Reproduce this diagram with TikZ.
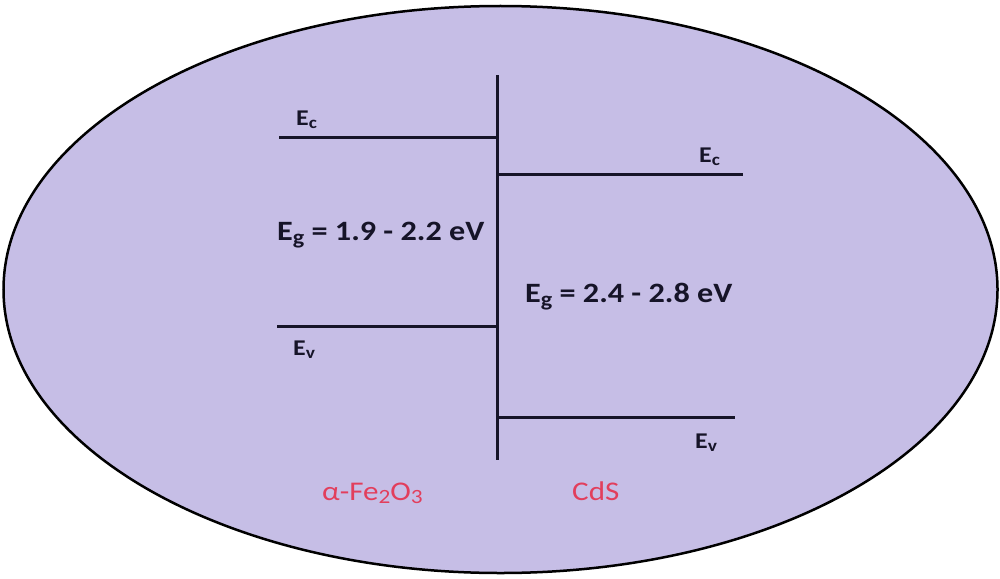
\documentclass[tikz,border=0pt]{standalone}
\usepackage{fontspec}
\setmainfont{Carlito}[FakeStretch=1.15]
\usetikzlibrary{shapes.geometric}
\definecolor{lav}{RGB}{198,190,230}
\definecolor{lbl}{RGB}{226,62,92}
\definecolor{ink}{RGB}{22,20,40}
\newcommand\lowsub[1]{\raisebox{-0.3ex}{\scalebox{0.75}{#1}}}
\begin{document}
\begin{tikzpicture}[x=1pt,y=-1pt,
  band/.style={line width=3pt,ink},
  elabel/.style={anchor=base west,inner sep=0pt,font=\bfseries\fontsize{22.5}{26}\selectfont,text=ink},
  gaplabel/.style={anchor=base west,inner sep=0pt,font=\bfseries\fontsize{28}{32}\selectfont,text=ink},
  matlabel/.style={anchor=base west,inner sep=0pt,font=\fontsize{27}{30}\selectfont,text=lbl}]
\useasboundingbox (0,0) rectangle (1000,578);
\node[draw=black,line width=2.5pt,fill=lav,ellipse,minimum width=994pt,minimum height=567pt,inner sep=0pt] (shell) at (500.5,289.5) {};
% interface
\coordinate (itop) at (497,75);
\coordinate (ibot) at (497,460);
\draw[band] (itop) -- (ibot);
% alpha-Fe2O3 bands
\coordinate (ecL) at (279,137);
\coordinate (ecLi) at (497,137);
\coordinate (evL) at (277,326);
\coordinate (evLi) at (497,326);
\draw[band] (ecL) -- (ecLi);
\draw[band] (evL) -- (evLi);
% CdS bands
\coordinate (ecRi) at (497,174);
\coordinate (ecR) at (743,174);
\coordinate (evRi) at (497,417);
\coordinate (evR) at (735,417);
\draw[band] (ecRi) -- (ecR);
\draw[band] (evRi) -- (evR);
% labels
\node[elabel] (ecLlab) at (296,125) {E\lowsub{c}};
\node[elabel] (evLlab) at (293,355) {E\lowsub{v}};
\node[elabel] (ecRlab) at (699,162) {E\lowsub{c}};
\node[elabel] (evRlab) at (695,448) {E\lowsub{v}};
\node[gaplabel] (egL) at (277,240) {E\lowsub{g} = 1.9 - 2.2 eV};
\node[gaplabel] (egR) at (525,302) {E\lowsub{g} = 2.4 - 2.8 eV};
\node[matlabel] (fe) at (322,500) {α-Fe\lowsub{2}O\lowsub{3}};
\node[matlabel] (cds) at (572,500) {CdS};
\end{tikzpicture}
\end{document}
